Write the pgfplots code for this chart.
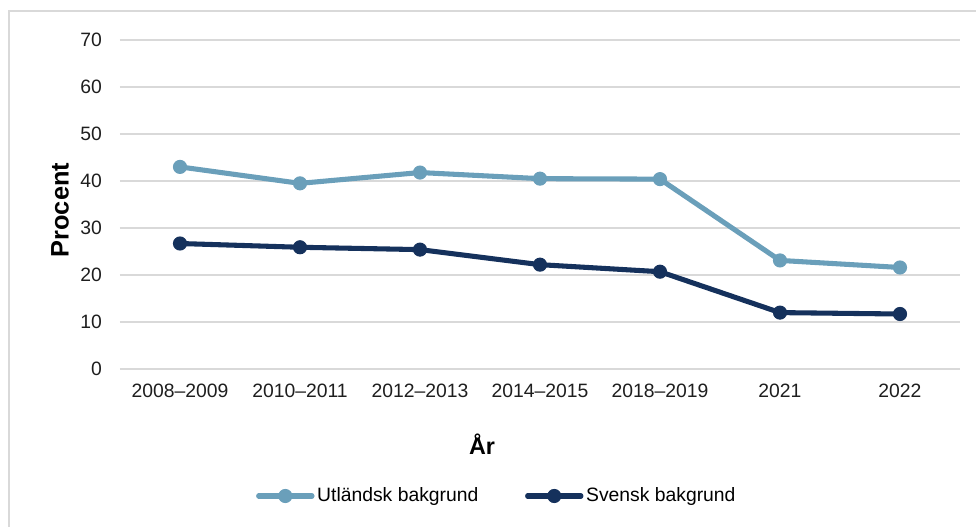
\documentclass[border=0pt]{standalone}
\usepackage{pgfplots}
\pgfplotsset{compat=1.18}
\usepackage{fontspec}
\setmainfont{Liberation Sans}

\definecolor{utl}{HTML}{6A9FBA}
\definecolor{sve}{HTML}{15315C}
\definecolor{gridgray}{HTML}{D9D9D9}
\definecolor{txt}{HTML}{1E1E1E}

\begin{document}
\begin{tikzpicture}[x=0.75pt, y=0.75pt]
	% outer frame (px units, origin bottom left)
	\useasboundingbox (0,0) rectangle (976,526);
	\draw[gridgray, line width=1.2pt] (9,-2) -- (9,515) -- (980,515);

	\begin{axis}[
		at={(90pt,117.75pt)},
		anchor=south west,
		scale only axis,
		width=630pt,
		height=246.75pt,
		xmin=-0.5, xmax=6.5,
		ymin=0, ymax=70,
		xtick={0,...,6},
		xticklabels={2008--2009, 2010--2011, 2012--2013, 2014--2015, 2018--2019, 2021, 2022},
		ytick={0,10,...,70},
		axis line style={draw=none},
		major tick length=0pt,
		ymajorgrids=true,
		grid style={gridgray, line width=1pt},
		tick label style={font=\fontsize{14.5}{17}\selectfont, text=txt},
		/pgf/number format/assume math mode=true,
		yticklabel style={xshift=-10pt},
		xticklabel style={yshift=-8pt},
		xlabel={År},
		ylabel={Procent},
		every axis x label/.style={at={(axis description cs:0.431,-0.228)}, anchor=center,
			font=\fontsize{17.5}{20}\selectfont\bfseries},
		every axis y label/.style={at={(axis description cs:-0.0714,0.483)}, rotate=90, anchor=center,
			font=\fontsize{19}{22}\selectfont\bfseries},
		legend columns=2,
		legend style={
			draw=none, fill=none,
			at={(axis description cs:0.449,-0.386)}, anchor=center,
			font=\fontsize{14.5}{17}\selectfont,
			/tikz/every even column/.append style={column sep=33pt},
			inner sep=0pt,
		},
		legend image code/.code={
			\draw[#1, mark=none, line cap=round] (0pt,0pt) -- (40pt,0pt);
			\draw[#1, only marks] plot coordinates {(20pt,0pt)};
		},
		legend cell align=left,
	]
		\addplot[color=utl, line width=3.8pt, mark=*, mark size=4.9pt, mark options={solid, line width=0.8pt}]
		coordinates {
			(0,43.0)(1,39.5)(2,41.8)(3,40.5)(4,40.4)(5,23.1)(6,21.6)
		};
		\addplot[color=sve, line width=3.8pt, mark=*, mark size=4.9pt, mark options={solid, line width=0.8pt}]
		coordinates {
			(0,26.7)(1,25.9)(2,25.4)(3,22.2)(4,20.7)(5,12.0)(6,11.7)
		};
		\legend{Utländsk bakgrund, Svensk bakgrund}
	\end{axis}
\end{tikzpicture}
\end{document}
